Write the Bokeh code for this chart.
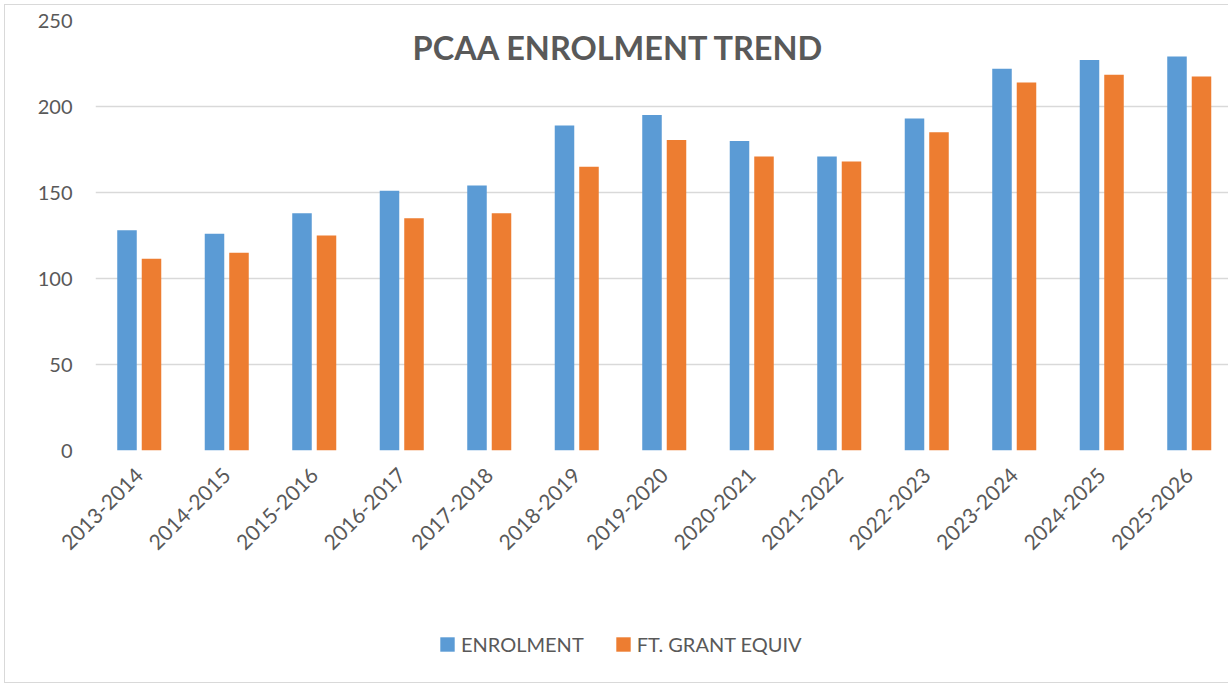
import math
from bokeh.plotting import figure
from bokeh.layouts import column
from bokeh.models import Range1d, FixedTicker, Legend, LegendItem, Label, ColumnDataSource
from bokeh.transform import dodge
from bokeh.embed import file_html
from bokeh.resources import INLINE

categories = ["2013-2014", "2014-2015", "2015-2016", "2016-2017", "2017-2018",
              "2018-2019", "2019-2020", "2020-2021", "2021-2022", "2022-2023",
              "2023-2024", "2024-2025", "2025-2026"]
enrolment = [128, 126, 138, 151, 154, 189, 195, 180, 171, 193, 222, 227, 229]
ft_grant_equiv = [111.5, 115, 125, 135, 138, 165, 180.5, 171, 168, 185, 214, 218.5, 217.5]
y_ticks = [0, 50, 100, 150, 200, 250]
series_names = ["ENROLMENT", "FT. GRANT EQUIV"]
title_text = "PCAA ENROLMENT TREND"

BLUE = "#5B9BD5"
ORANGE = "#ED7D31"
TEXT = "#595959"
GRID = "#D9D9D9"
FONT = "Lato"

idx = list(range(len(categories)))
src = ColumnDataSource(dict(x=idx, cat=categories, enrol=enrolment, grant=ft_grant_equiv))

W, H, LH = 1228, 600, 86
left, top, frame_h = 95, 20, 430
px_per_cat = 87.5
x_end = -0.5 + (W - left) / px_per_cat

p = figure(width=W, height=H, output_backend="svg", toolbar_location=None,
           x_range=Range1d(-0.5, x_end), y_range=Range1d(0, 250),
           min_border_left=left, min_border_right=0, min_border_top=top,
           min_border_bottom=H - top - frame_h)
p.outline_line_color = None
p.background_fill_color = "white"
p.border_fill_color = "white"

r1 = p.vbar(x=dodge("x", -0.14, range=p.x_range), top="enrol", width=0.223,
            source=src, fill_color=BLUE, line_color=None)
r2 = p.vbar(x=dodge("x", 0.14, range=p.x_range), top="grant", width=0.223,
            source=src, fill_color=ORANGE, line_color=None)

p.xaxis.ticker = FixedTicker(ticks=idx)
p.xaxis.major_label_overrides = {i: c for i, c in enumerate(categories)}
p.xaxis.major_label_orientation = math.pi / 4
p.yaxis.ticker = FixedTicker(ticks=y_ticks)

for ax in p.axis:
    ax.axis_line_color = None
    ax.major_tick_line_color = None
    ax.minor_tick_line_color = None
    ax.major_tick_out = 0
    ax.major_tick_in = 0
    ax.minor_tick_out = 0
    ax.major_label_text_font = FONT
    ax.major_label_text_color = TEXT

p.xaxis.major_label_text_font_size = "21px"
p.xaxis.major_label_standoff = 21
p.yaxis.major_label_text_font_size = "20px"
p.yaxis.major_label_standoff = 23

p.xgrid.visible = False
p.ygrid.grid_line_color = GRID
p.ygrid.grid_line_width = 1.3

title = Label(x=523.5, y=403, x_units="screen", y_units="screen", text=title_text,
              text_align="center", text_baseline="alphabetic",
              text_font=FONT, text_font_style="bold", text_font_size="32.5px",
              text_color=TEXT)
p.add_layout(title)

# legend strip below the chart (its frame is aligned with the chart's frame)
lp = figure(width=W, height=LH, output_backend="svg", toolbar_location=None,
            x_axis_type=None, y_axis_type=None, min_border=0)
lp.outline_line_color = None
lp.xgrid.visible = False
lp.ygrid.visible = False
l1 = lp.vbar(x="x", top="enrol", width=0.223, source=src, fill_color=BLUE,
             line_color=None, visible=False)
l2 = lp.vbar(x="x", top="grant", width=0.223, source=src, fill_color=ORANGE,
             line_color=None, visible=False)

legend = Legend(items=[LegendItem(label=series_names[0], renderers=[l1]),
                       LegendItem(label=series_names[1], renderers=[l2])],
                location=(343, 30), orientation="horizontal",
                border_line_color=None, background_fill_alpha=0,
                inactive_fill_alpha=0,
                padding=0, margin=0, spacing=30, label_standoff=5,
                glyph_width=18, glyph_height=18,
                label_text_font=FONT, label_text_font_size="20px",
                label_text_color=TEXT)
lp.add_layout(legend)

layout = column(p, lp, spacing=0)
layout.stylesheets = [
    ":host::after { content: ''; position: absolute; left: 4px; top: 4px; "
    "right: 0px; bottom: 3px; border-style: solid; border-color: #D9D9D9; "
    "border-width: 1px 0px 1px 1px; pointer-events: none; z-index: 10; }"
]

open("out.html", "w").write(file_html(layout, INLINE))
